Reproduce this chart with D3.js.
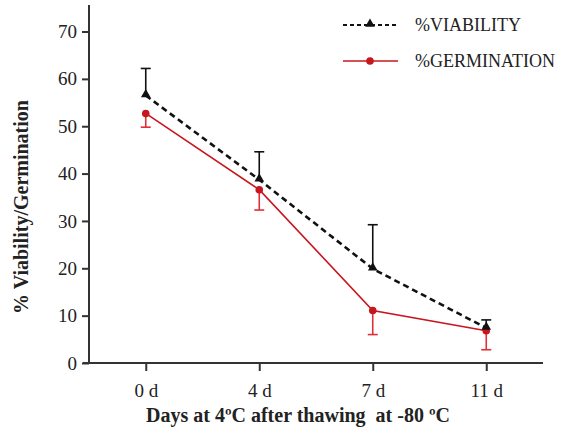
<!DOCTYPE html>
<html>
<head>
<meta charset="utf-8">
<script src="https://cdn.jsdelivr.net/npm/d3@7"></script>
<style>
  body { margin: 0; background: #fff; }
  text { font-family: "Liberation Serif", "Times New Roman", serif; fill: #222; }
</style>
</head>
<body>
<script>
var width = 564,
    height = 433;

// data
var days = ["0 d", "4 d", "7 d", "11 d"];
var viability = [56.5, 38.7, 19.9, 7.4];
var viabilityErr = [5.7, 5.9, 9.3, 1.7];
var germination = [52.7, 36.6, 11.1, 6.8];
var germinationErr = [2.9, 4.3, 5.1, 4.0];
var yTicks = [0, 10, 20, 30, 40, 50, 60, 70];

var x = d3.scalePoint()
  .domain(days)
  .range([89, 543])
  .padding(0.5);

var y = d3.scaleLinear()
  .domain([0, 75.6])
  .range([363, 5]);

var svg = d3.select("body").append("svg")
  .attr("width", width)
  .attr("height", height);

// axes
var yAxis = svg.append("g")
  .attr("transform", "translate(89,0)")
  .call(d3.axisLeft(y).tickValues(yTicks).tickSize(7).tickPadding(5).tickSizeOuter(0));
yAxis.select(".domain").remove();
yAxis.append("line")
  .attr("y1", y(0)).attr("y2", 5)
  .attr("stroke", "#333").attr("stroke-width", 2);
yAxis.selectAll(".tick line").attr("stroke", "#333").attr("stroke-width", 2);
yAxis.selectAll(".tick text").attr("font-size", 19).style("fill", "#222");

var xAxis = svg.append("g")
  .attr("transform", "translate(0," + y(0) + ")")
  .call(d3.axisBottom(x).tickSize(8).tickPadding(13));
xAxis.select(".domain").remove();
xAxis.append("line")
  .attr("x1", 83).attr("x2", 543)
  .attr("stroke", "#333").attr("stroke-width", 2);
xAxis.selectAll(".tick line").attr("stroke", "#333").attr("stroke-width", 2);
xAxis.selectAll(".tick text").attr("font-size", 19).style("fill", "#222");

// axis titles
svg.append("text")
  .attr("transform", "translate(28,207) rotate(-90)")
  .attr("text-anchor", "middle")
  .attr("font-size", 20)
  .attr("font-weight", "bold")
  .text("% Viability/Germination");

svg.append("text")
  .attr("x", 298)
  .attr("y", 422)
  .attr("text-anchor", "middle")
  .attr("font-size", 20)
  .attr("font-weight", "bold")
  .style("white-space", "pre")
  .text("Days at 4ºC after thawing  at -80 ºC");

var line = d3.line()
  .x(function(d, i) { return x(days[i]); })
  .y(function(d) { return y(d); });

// error bars (viability up, germination down)
function errBars(vals, errs, dir, color) {
  var g = svg.append("g").attr("stroke", color).attr("stroke-width", 1.6);
  vals.forEach(function(v, i) {
    var cx = x(days[i]), y1 = y(v), y2 = y(v + dir * errs[i]);
    g.append("line").attr("x1", cx).attr("x2", cx).attr("y1", y1).attr("y2", y2);
    g.append("line").attr("x1", cx - 5).attr("x2", cx + 5).attr("y1", y2).attr("y2", y2);
  });
}
errBars(viability, viabilityErr, 1, "#111");
errBars(germination, germinationErr, -1, "#e0303a");

svg.append("path")
  .datum(germination)
  .attr("d", line)
  .attr("fill", "none")
  .attr("stroke", "#c8161e")
  .attr("stroke-width", 1.6);

svg.append("path")
  .datum(viability)
  .attr("d", line)
  .attr("fill", "none")
  .attr("stroke", "#111")
  .attr("stroke-width", 2.6)
  .attr("stroke-dasharray", "6,4");

var tri = d3.symbol().type(d3.symbolTriangle).size(40);

svg.selectAll(".germ")
  .data(germination)
  .enter().append("circle")
    .attr("class", "germ")
    .attr("cx", function(d, i) { return x(days[i]); })
    .attr("cy", function(d) { return y(d); })
    .attr("r", 3.8)
    .attr("fill", "#c8161e");

svg.selectAll(".via")
  .data(viability)
  .enter().append("path")
    .attr("class", "via")
    .attr("transform", function(d, i) { return "translate(" + x(days[i]) + "," + (y(d) - 1) + ")"; })
    .attr("d", tri)
    .attr("fill", "#111");

// legend
var legend = svg.append("g");
legend.append("line")
  .attr("x1", 343).attr("x2", 398).attr("y1", 25).attr("y2", 25)
  .attr("stroke", "#111").attr("stroke-width", 2).attr("stroke-dasharray", "4,3");
legend.append("path")
  .attr("transform", "translate(370,24)")
  .attr("d", tri)
  .attr("fill", "#111");
legend.append("text")
  .attr("x", 415).attr("y", 31)
  .attr("font-size", 18)
  .text("%VIABILITY");

legend.append("line")
  .attr("x1", 343).attr("x2", 398).attr("y1", 61).attr("y2", 61)
  .attr("stroke", "#c8161e").attr("stroke-width", 1.6);
legend.append("circle")
  .attr("cx", 370).attr("cy", 61).attr("r", 3.8)
  .attr("fill", "#c8161e");
legend.append("text")
  .attr("x", 415).attr("y", 67)
  .attr("font-size", 18)
  .text("%GERMINATION");
</script>
</body>
</html>
